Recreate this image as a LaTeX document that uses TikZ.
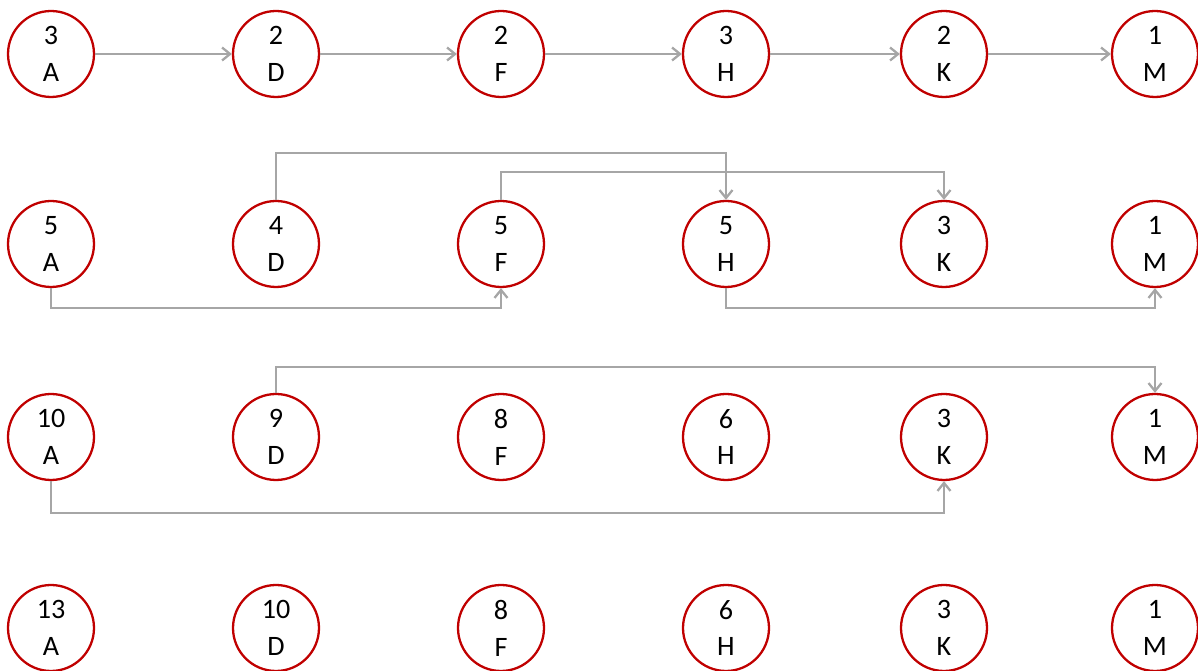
\documentclass[tikz,border=0pt]{standalone}
\usepackage{fontspec}
\setmainfont{Carlito}
\usetikzlibrary{arrows.meta}
\definecolor{nodered}{HTML}{C00000}
\definecolor{linkgray}{HTML}{A6A6A6}

\begin{document}
\begin{tikzpicture}[
		x=0.02cm, y=-0.02cm,
		stage/.style={
			circle,
			draw=nodered,
			line width=1.3pt,
			minimum size=1.72cm,
			inner sep=0pt,
			align=center,
			font=\fontsize{16}{21}\selectfont
		},
		link/.style={-{Straight Barb[length=1.6mm, width=2.6mm]}, line width=1.3pt, draw=linkgray}
		]
		
		\useasboundingbox (0,0) rectangle (1198,671);
		
		% row 1
		\node[stage] (a1) at (51,54) {3\\A};
		\node[stage] (d1) at (276,54) {2\\D};
		\node[stage] (f1) at (501,54) {2\\F};
		\node[stage] (h1) at (726,54) {3\\H};
		\node[stage] (k1) at (944,54) {2\\K};
		\node[stage] (m1) at (1155,54) {1\\M};
		
		% row 2
		\node[stage] (a2) at (51,244) {5\\A};
		\node[stage] (d2) at (276,244) {4\\D};
		\node[stage] (f2) at (501,244) {5\\F};
		\node[stage] (h2) at (726,244) {5\\H};
		\node[stage] (k2) at (944,244) {3\\K};
		\node[stage] (m2) at (1155,244) {1\\M};
		
		% row 3
		\node[stage] (a3) at (51,437) {10\\A};
		\node[stage] (d3) at (276,437) {9\\D};
		\node[stage] (f3) at (501,437) {8\\F};
		\node[stage] (h3) at (726,437) {6\\H};
		\node[stage] (k3) at (944,437) {3\\K};
		\node[stage] (m3) at (1155,437) {1\\M};
		
		% row 4
		\node[stage] (a4) at (51,628) {13\\A};
		\node[stage] (d4) at (276,628) {10\\D};
		\node[stage] (f4) at (501,628) {8\\F};
		\node[stage] (h4) at (726,628) {6\\H};
		\node[stage] (k4) at (944,628) {3\\K};
		\node[stage] (m4) at (1155,628) {1\\M};
		
		\draw[link] (a1) -- (d1);
		\draw[link] (d1) -- (f1);
		\draw[link] (f1) -- (h1);
		\draw[link] (h1) -- (k1);
		\draw[link] (k1) -- (m1);
		
		\draw[link] (d2.north) |- (726,153) -- (h2.north);
		\draw[link] (f2.north) |- (944,172) -- (k2.north);
		\draw[link] (a2.south) |- (501,308) -- (f2.south);
		\draw[link] (h2.south) |- (1155,308) -- (m2.south);
		
		\draw[link] (d3.north) |- (1155,367) -- (m3.north);
		\draw[link] (a3.south) |- (944,513) -- (k3.south);
		
	\end{tikzpicture}
\end{document}
